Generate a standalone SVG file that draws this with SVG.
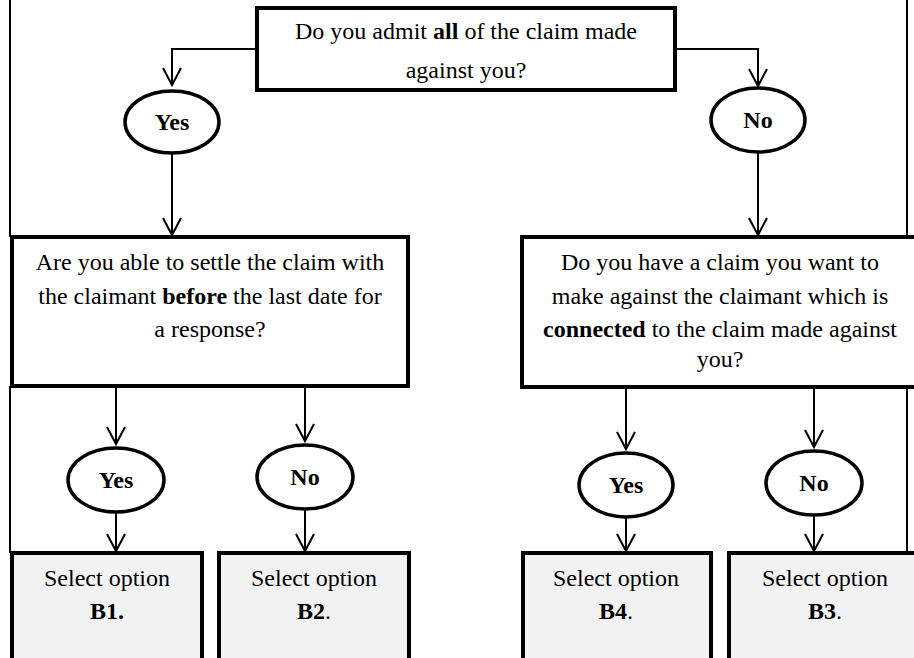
<svg xmlns="http://www.w3.org/2000/svg" width="914" height="658" viewBox="0 0 914 658" font-family="'Liberation Serif', serif">
<defs>
<style>
.box{fill:#fff;stroke:#000;stroke-width:4}
.opt{fill:#f2f2f2;stroke:#000;stroke-width:4}
.ell{fill:#fff;stroke:#000;stroke-width:3.5}
.con{fill:none;stroke:#000;stroke-width:2}
.pg{fill:none;stroke:#000;stroke-width:2}
text{font-family:'Liberation Serif',serif;font-size:24px;fill:#000;text-anchor:middle}
.b{font-weight:bold}
</style>
<marker id="arr" markerUnits="userSpaceOnUse" markerWidth="22" markerHeight="22" viewBox="-19 -11 22 22" refX="0" refY="0" orient="auto" overflow="visible">
<path d="M-17,-9 L0,0 L-17,9" fill="none" stroke="#000" stroke-width="2"/>
</marker>
</defs>
<rect width="914" height="658" fill="#fff"/>
<g id="page">
<path class="pg" d="M10,0 V237 M10,386 V553 M907,0 V237 M907,387 V553"/>
</g>
<g id="connectors">
<path class="con" d="M257,49 H172 V85" marker-end="url(#arr)"/>
<path class="con" d="M172,153 V235" marker-end="url(#arr)"/>
<path class="con" d="M675,49 H758 V86" marker-end="url(#arr)"/>
<path class="con" d="M758,152 V235" marker-end="url(#arr)"/>
<path class="con" d="M116,387 V444" marker-end="url(#arr)"/>
<path class="con" d="M116,512 V551" marker-end="url(#arr)"/>
<path class="con" d="M305,387 V441" marker-end="url(#arr)"/>
<path class="con" d="M305,509 V551" marker-end="url(#arr)"/>
<path class="con" d="M626,388 V449" marker-end="url(#arr)"/>
<path class="con" d="M626,517 V551" marker-end="url(#arr)"/>
<path class="con" d="M814,388 V447" marker-end="url(#arr)"/>
<path class="con" d="M814,515 V551" marker-end="url(#arr)"/>
</g>
<g id="q1">
<rect class="box" x="257" y="8" width="418" height="82"/>
<text x="466" y="39">Do you admit <tspan class="b">all</tspan> of the claim made</text>
<text x="466" y="78">against you?</text>
</g>
<g id="yes1">
<ellipse class="ell" cx="172" cy="122" rx="47" ry="31"/>
<text class="b" x="172" y="130">Yes</text>
</g>
<g id="no1">
<ellipse class="ell" cx="758" cy="120" rx="47" ry="32"/>
<text class="b" x="758" y="128">No</text>
</g>
<g id="q2">
<rect class="box" x="12" y="237" width="396" height="149"/>
<text x="210" y="270">Are you able to settle the claim with</text>
<text x="210" y="304">the claimant <tspan class="b">before</tspan> the last date for</text>
<text x="210" y="337">a response?</text>
</g>
<g id="q3">
<rect class="box" x="522" y="237" width="400" height="150"/>
<text x="720" y="270">Do you have a claim you want to</text>
<text x="720" y="304">make against the claimant which is</text>
<text x="720" y="337"><tspan class="b">connected</tspan> to the claim made against</text>
<text x="720" y="367">you?</text>
</g>
<g id="yes2">
<ellipse class="ell" cx="116" cy="480" rx="48" ry="32"/>
<text class="b" x="116" y="488">Yes</text>
</g>
<g id="no2">
<ellipse class="ell" cx="305" cy="477" rx="48" ry="32"/>
<text class="b" x="305" y="485">No</text>
</g>
<g id="yes3">
<ellipse class="ell" cx="626" cy="485" rx="47" ry="32"/>
<text class="b" x="626" y="493">Yes</text>
</g>
<g id="no3">
<ellipse class="ell" cx="814" cy="483" rx="48" ry="32"/>
<text class="b" x="814" y="491">No</text>
</g>
<g id="b1">
<rect class="opt" x="12" y="553" width="190" height="130"/>
<text x="107" y="586">Select option</text>
<text class="b" x="107" y="619">B1.</text>
</g>
<g id="b2">
<rect class="opt" x="219" y="553" width="190" height="130"/>
<text x="314" y="586">Select option</text>
<text x="314" y="619"><tspan class="b">B2</tspan>.</text>
</g>
<g id="b4">
<rect class="opt" x="523" y="553" width="188" height="130"/>
<text x="616" y="586">Select option</text>
<text x="616" y="619"><tspan class="b">B4</tspan>.</text>
</g>
<g id="b3">
<rect class="opt" x="729" y="553" width="192" height="130"/>
<text x="825" y="586">Select option</text>
<text x="825" y="619"><tspan class="b">B3</tspan>.</text>
</g>
</svg>
